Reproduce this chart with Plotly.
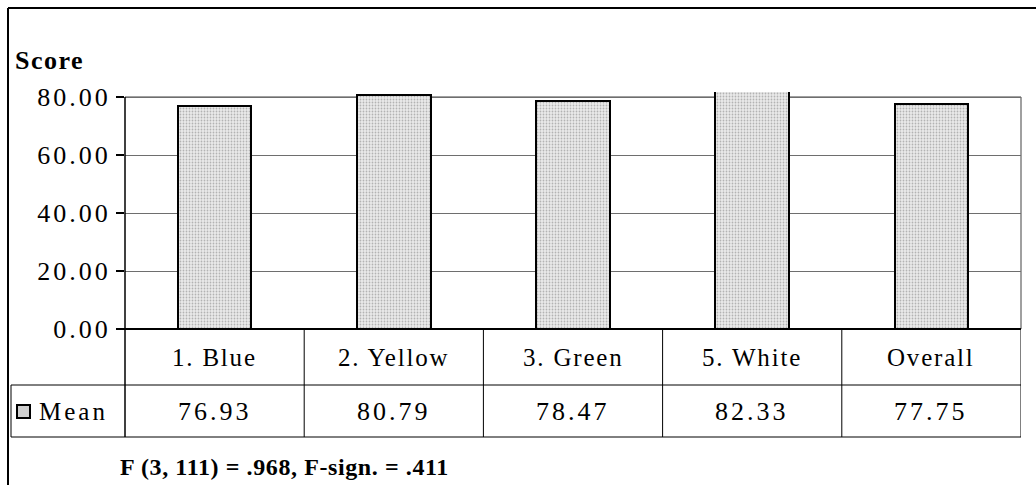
import plotly.graph_objects as go

# Group means with the overall mean
categories = ["1. Blue", "2. Yellow", "3. Green", "5. White", "Overall"]
mean_values = [76.93, 80.79, 78.47, 82.33, 77.75]
tick_values = [0, 20, 40, 60, 80]
tick_labels = ["0.00", "20.00", "40.00", "60.00", "80.00"]
series_name = "Mean"
axis_title = "Score"
footnote = "F (3, 111) = .968, F-sign. = .411"

W, H = 1036, 485
L, R, T, B = 125, 15, 92, 156
PW, PH = W - L - R, H - T - B
FONT = "Liberation Serif, Times New Roman, serif"
FS = 25


def fx(x):
    return (x - L) / PW


def fy(y):
    return (H - B - y) / PH


def spaced(s, sp=2):
    return f"<span style='letter-spacing:{sp}px'>{s}</span>"


fig = go.Figure()
fig.add_trace(go.Bar(
    x=categories, y=mean_values, name=series_name, width=0.41,
    marker=dict(
        color="#e0e0e0",
        line=dict(color="black", width=2),
        pattern=dict(shape=".", fgcolor="#7c7c7c", bgcolor="#eaeaea",
                     size=3, solidity=0.28),
    ),
    showlegend=False,
))

shapes = []


def seg(x0, y0, x1, y1, color="black", width=1, xref="paper", layer="above"):
    shapes.append(dict(type="line", xref=xref, yref="paper",
                       x0=x0, y0=y0, x1=x1, y1=y1, layer=layer,
                       line=dict(color=color, width=width)))


# plot-area frame (top and right) in grey
seg(fx(125), fy(97), fx(1021), fy(97), color="#a0a0a0", width=2, layer="below")
seg(fx(1021), fy(97), fx(1021), fy(329), color="#a0a0a0", width=2, layer="below")
# value axis running down through the table
seg(fx(125), fy(97), fx(125), fy(437), width=1.5)
# zero line / top of the data table
seg(fx(117), fy(329), fx(1021), fy(329), width=2)
# column dividers of the data table
for i in range(len(categories)):
    seg(i + 0.5, fy(329), i + 0.5, fy(437), xref="x")
# table rows
seg(fx(11), fy(385), fx(1021), fy(385))
seg(fx(11), fy(437), fx(1021), fy(437))
seg(fx(11), fy(385), fx(11), fy(437))
# outer chart border
seg(fx(8), fy(8), fx(8), fy(500), width=2)
seg(fx(8), fy(8), fx(1040), fy(8), width=2)
# legend key in the table
shapes.append(dict(type="rect", xref="paper", yref="paper",
                   x0=fx(17), x1=fx(30), y0=fy(418), y1=fy(405),
                   fillcolor="#cfcfcf", line=dict(color="black", width=2)))

ann = []
ann.append(dict(text=spaced("<b>" + axis_title + "</b>", 1.5), xref="paper", yref="paper",
                x=fx(13), y=fy(60), xanchor="left", yanchor="middle",
                showarrow=False, font=dict(family=FONT, size=26, color="black")))
for i, (c, v) in enumerate(zip(categories, mean_values)):
    ann.append(dict(text=spaced(c, 1.8), xref="x", yref="paper", x=i, y=fy(357),
                    xanchor="center", yanchor="middle", showarrow=False,
                    font=dict(family=FONT, size=FS, color="black")))
    ann.append(dict(text=spaced(f"{v:.2f}", 3), xref="x", yref="paper", x=i, y=fy(411),
                    xanchor="center", yanchor="middle", showarrow=False,
                    font=dict(family=FONT, size=26, color="black")))
ann.append(dict(text=spaced(series_name, 3), xref="paper", yref="paper",
                x=fx(37), y=fy(411), xanchor="left", yanchor="middle",
                showarrow=False, font=dict(family=FONT, size=FS, color="black")))
ann.append(dict(text=spaced("<b>" + footnote + "</b>", 0.6), xref="paper", yref="paper",
                x=fx(118), y=fy(467), xanchor="left", yanchor="middle",
                showarrow=False, font=dict(family=FONT, size=24, color="black")))

fig.update_layout(
    width=W, height=H,
    margin=dict(l=L, r=R, t=T, b=B, pad=0),
    paper_bgcolor="white", plot_bgcolor="white",
    shapes=shapes, annotations=ann,
    xaxis=dict(type="category", range=[-0.5, len(categories) - 0.5],
               showticklabels=False, showgrid=False, zeroline=False,
               showline=False, ticks=""),
    yaxis=dict(range=[0, 80 * PH / 232], tickvals=tick_values,
               ticktext=[spaced(t, 3) for t in tick_labels],
               ticks="outside", ticklen=8, tickwidth=1.5, tickcolor="black",
               showgrid=True, gridcolor="#6e6e6e", gridwidth=1,
               zeroline=False, showline=False,
               tickfont=dict(family=FONT, size=26, color="black")),
    bargap=0,
)

fig.write_html("out.html")
